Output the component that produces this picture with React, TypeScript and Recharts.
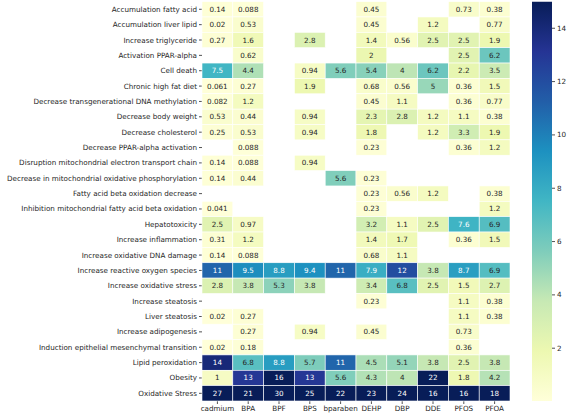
import { ScatterChart, Scatter, BarChart, Bar, XAxis, YAxis } from 'recharts';

const compounds = ['cadmium', 'BPA', 'BPF', 'BPS', 'bparaben', 'DEHP', 'DBP', 'DDE', 'PFOS', 'PFOA'];

const effects = [
  'Accumulation fatty acid',
  'Accumulation liver lipid',
  'Increase triglyceride',
  'Activation PPAR-alpha',
  'Cell death',
  'Chronic high fat diet',
  'Decrease transgenerational DNA methylation',
  'Decrease body weight',
  'Decrease cholesterol',
  'Decrease PPAR-alpha activation',
  'Disruption mitochondrial electron transport chain',
  'Decrease in mitochondrial oxidative phosphorylation',
  'Fatty acid beta oxidation decrease',
  'Inhibition mitochondrial fatty acid beta oxidation',
  'Hepatotoxicity',
  'Increase inflammation',
  'Increase oxidative DNA damage',
  'Increase reactive oxygen species',
  'Increase oxidative stress',
  'Increase steatosis',
  'Liver steatosis',
  'Increase adipogenesis',
  'Induction epithelial mesenchymal transition',
  'Lipid peroxidation',
  'Obesity',
  'Oxidative Stress',
];

// one list per compound, in the order of `effects`; null = empty cell
const cadmium = [0.14, 0.02, 0.27, null, 7.5, 0.061, 0.082, 0.53, 0.25, null, 0.14, 0.14, null, 0.041, 2.5, 0.31, 0.14, 11, 2.8, null, 0.02, null, 0.02, 14, 1, 27];
const bpa = [0.088, 0.53, 1.6, 0.62, 4.4, 0.27, 1.2, 0.44, 0.53, 0.088, 0.088, 0.44, null, null, 0.97, 1.2, 0.088, 9.5, 3.8, null, 0.27, 0.27, 0.18, 6.8, 13, 21];
const bpf = [null, null, null, null, null, null, null, null, null, null, null, null, null, null, null, null, null, 8.8, 5.3, null, null, null, null, 8.8, 16, 30];
const bps = [null, null, 2.8, null, 0.94, 1.9, null, 0.94, 0.94, null, 0.94, null, null, null, null, null, null, 9.4, 3.8, null, null, 0.94, null, 5.7, 13, 25];
const bparaben = [null, null, null, null, 5.6, null, null, null, null, null, null, 5.6, null, null, null, null, null, 11, null, null, null, null, null, 11, 5.6, 22];
const dehp = [0.45, 0.45, 1.4, 2, 5.4, 0.68, 0.45, 2.3, 1.8, 0.23, null, 0.23, 0.23, 0.23, 3.2, 1.4, 0.68, 7.9, 3.4, 0.23, null, 0.45, null, 4.5, 4.3, 23];
const dbp = [null, null, 0.56, null, 4, 0.56, 1.1, 2.8, null, null, null, null, 0.56, null, 1.1, 1.7, 1.1, 12, 6.8, null, null, null, null, 5.1, 4, 24];
const dde = [null, 1.2, 2.5, null, 6.2, 5, null, 1.2, 1.2, null, null, null, 1.2, null, 2.5, null, null, 3.8, 2.5, null, null, null, null, 3.8, 22, 16];
const pfos = [0.73, null, 2.5, 2.5, 2.2, 0.36, 0.36, 1.1, 3.3, 0.36, null, null, null, null, 7.6, 0.36, null, 8.7, 1.5, 1.1, 1.1, 0.73, 0.36, 2.5, 1.8, 16];
const pfoa = [0.38, 0.77, 1.9, 6.2, 3.5, 1.5, 0.77, 0.38, 1.9, 1.2, null, null, 0.38, 1.2, 6.9, 1.5, null, 6.9, 2.7, 0.38, 0.38, null, null, 3.8, 4.2, 18];

const columns = [cadmium, bpa, bpf, bps, bparaben, dehp, dbp, dde, pfos, pfoa];

const colorTicks = [2, 4, 6, 8, 10, 12, 14];
const colorMin = 0.02;
const colorMax = 15;

// matplotlib YlGnBu anchors
const ylGnBu = ['#ffffd9', '#edf8b1', '#c7e9b4', '#7fcdbb', '#41b6c4', '#1d91c0', '#225ea8', '#253494', '#081d58'];

const FONT = 'DejaVu Sans';
const INK = '#262626';
const W = 520;
const H = 416;
const M = { top: 1.6, right: 10, bottom: 0, left: 0 };
const Y_AXIS_W = 202;
const X_AXIS_H = 15;
const CELL_W = (W - M.left - M.right - Y_AXIS_W) / compounds.length;
const CELL_H = (H - M.top - M.bottom - X_AXIS_H) / effects.length;

const hexRgb = (h: string) => [1, 3, 5].map((i) => parseInt(h.slice(i, i + 2), 16));

function cellColor(v: number) {
  const t = Math.min(1, Math.max(0, (v - colorMin) / (colorMax - colorMin))) * (ylGnBu.length - 1);
  const i = Math.min(Math.floor(t), ylGnBu.length - 2);
  const f = t - i;
  const a = hexRgb(ylGnBu[i]);
  const b = hexRgb(ylGnBu[i + 1]);
  return a.map((c, k) => Math.round(c + (b[k] - c) * f));
}

// seaborn's annotation rule
function textColor(rgb: number[]) {
  const lin = rgb.map((c) => {
    const s = c / 255;
    return s <= 0.03928 ? s / 12.92 : Math.pow((s + 0.055) / 1.055, 2.4);
  });
  const lum = 0.2126 * lin[0] + 0.7152 * lin[1] + 0.0722 * lin[2];
  return lum > 0.408 ? INK : '#ffffff';
}

const cells = columns.flatMap((col, c) =>
  col.flatMap((v, r) => (v == null ? [] : [{ x: c + 0.5, y: r + 0.5, v }]))
);

const colorBar = [{ name: 'scale', v: colorMax }];

function HeatCell(props: any) {
  const { cx, cy, payload } = props;
  const rgb = cellColor(payload.v);
  return (
    <g>
      <rect
        x={cx - CELL_W / 2}
        y={cy - CELL_H / 2}
        width={CELL_W}
        height={CELL_H}
        fill={`rgb(${rgb.join(',')})`}
        stroke="#ffffff"
        strokeWidth={0.6}
      />
      <text
        x={cx}
        y={cy}
        textAnchor="middle"
        dominantBaseline="central"
        fontSize={7.2}
        fontFamily={FONT}
        fill={textColor(rgb)}
      >
        {String(payload.v)}
      </text>
    </g>
  );
}

// plain svg text so long labels stay on one line
function EffectTick(props: any) {
  const { x, y, payload } = props;
  return (
    <text x={x} y={y} textAnchor="end" dominantBaseline="central" fontSize={7.2} fontFamily={FONT} fill={INK}>
      {effects[Math.floor(payload.value)]}
    </text>
  );
}

const tickStyle = { fontSize: 7.2, fill: INK, fontFamily: FONT };
const tickLineStyle = { stroke: INK, strokeWidth: 0.8 };

export default function App() {
  return (
    <div style={{ position: 'absolute', left: 0, top: 0, width: 570, height: 416, background: '#fff' }}>
      <div style={{ position: 'absolute', left: 0, top: 0 }}>
        <ScatterChart width={W} height={H} margin={M}>
          <XAxis
            type="number"
            dataKey="x"
            domain={[0, compounds.length]}
            ticks={compounds.map((_, i) => i + 0.5)}
            tickFormatter={(v) => compounds[Math.floor(v)]}
            interval={0}
            height={X_AXIS_H}
            axisLine={false}
            tickSize={3}
            tickMargin={2}
            tick={tickStyle}
            tickLine={tickLineStyle}
          />
          <YAxis
            type="number"
            dataKey="y"
            domain={[0, effects.length]}
            reversed
            ticks={effects.map((_, i) => i + 0.5)}
            interval={0}
            width={Y_AXIS_W}
            axisLine={false}
            tickSize={3}
            tickMargin={2}
            tick={<EffectTick />}
            tickLine={tickLineStyle}
          />
          <Scatter data={cells} shape={HeatCell} isAnimationActive={false} />
        </ScatterChart>
      </div>
      <div style={{ position: 'absolute', left: 532, top: 0 }}>
        <BarChart
          width={38}
          height={H}
          data={colorBar}
          barCategoryGap={0}
          margin={{ top: M.top, right: 0, bottom: X_AXIS_H, left: 0 }}
        >
          <defs>
            <linearGradient id="cbGrad" x1="0" y1="1" x2="0" y2="0">
              {ylGnBu.map((c, i) => (
                <stop key={c} offset={`${(i / (ylGnBu.length - 1)) * 100}%`} stopColor={c} />
              ))}
            </linearGradient>
          </defs>
          <XAxis dataKey="name" hide />
          <YAxis
            type="number"
            orientation="right"
            domain={[colorMin, colorMax]}
            allowDataOverflow
            ticks={colorTicks}
            interval={0}
            width={18}
            axisLine={false}
            tickSize={3}
            tickMargin={2}
            tick={tickStyle}
            tickLine={tickLineStyle}
          />
          <Bar dataKey="v" fill="url(#cbGrad)" isAnimationActive={false} />
        </BarChart>
      </div>
    </div>
  );
}
